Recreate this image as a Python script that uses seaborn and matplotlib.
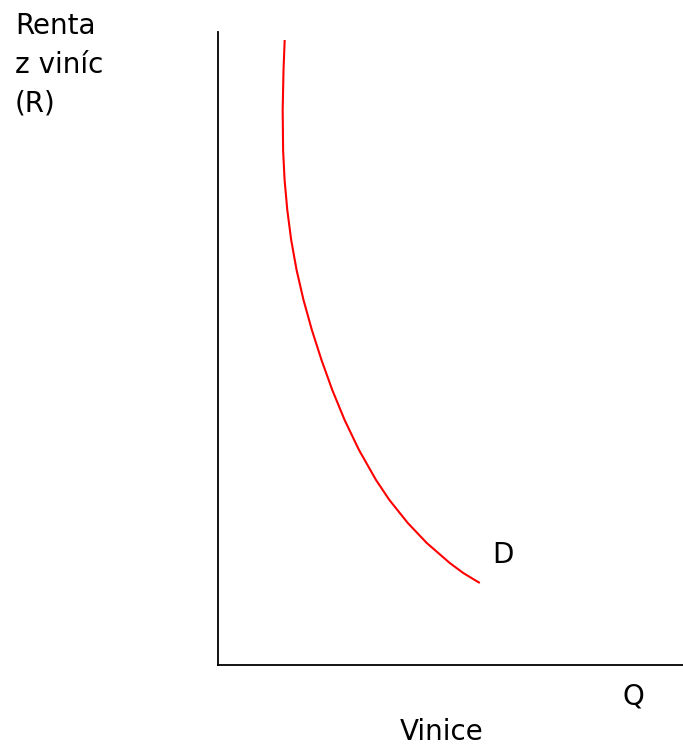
import matplotlib
matplotlib.use("Agg")
import matplotlib.pyplot as plt
import pandas as pd
import seaborn as sns

# Demand curve for vineyards (axis units 0..10)
quantity = [1.434, 1.409, 1.391, 1.400, 1.432, 1.490, 1.574, 1.690, 1.839,
            2.019, 2.226, 2.458, 2.723, 3.032, 3.398, 3.686, 4.082, 4.490,
            4.985, 5.275, 5.630]
rent = [9.874, 9.400, 8.768, 8.136, 7.662, 7.188, 6.714, 6.240, 5.766,
        5.292, 4.818, 4.344, 3.870, 3.397, 2.923, 2.607, 2.243, 1.927,
        1.611, 1.453, 1.295]

W, H = 683, 747

sns.set_theme(style="white")
plt.rcParams["font.family"] = ["DejaVu Sans"]

fig = plt.figure(figsize=(W / 100, H / 100), dpi=100)
ax = fig.add_axes([218 / W, (H - 665) / H, (W - 218) / W, (665 - 32) / H])

df = pd.DataFrame({"Q": quantity, "R": rent})
sns.lineplot(data=df, x="Q", y="R", sort=False, estimator=None,
             color="#ff0000", linewidth=1.5, ax=ax,
             solid_joinstyle="round", solid_capstyle="butt")

ax.set_xlim(0, 10)
ax.set_ylim(0, 10)
ax.set_xticks([])
ax.set_yticks([])
ax.set_xlabel("")
ax.set_ylabel("")
for side in ["top", "right"]:
    ax.spines[side].set_visible(False)
for side in ["left", "bottom"]:
    ax.spines[side].set_color("black")
    ax.spines[side].set_linewidth(1.3)

def px_text(x, y, s, **kw):
    fig.text(x / W, 1 - y / H, s, fontsize=20, color="black", **kw)

px_text(15, 65, "Renta\nz viníc\n(R)", ha="left", va="center", linespacing=1.48)
px_text(492, 555, "D", ha="left", va="center")
px_text(633, 697, "Q", ha="center", va="center")
px_text(442, 732, "Vinice", ha="center", va="center")

fig.savefig("out.png", dpi=100)
